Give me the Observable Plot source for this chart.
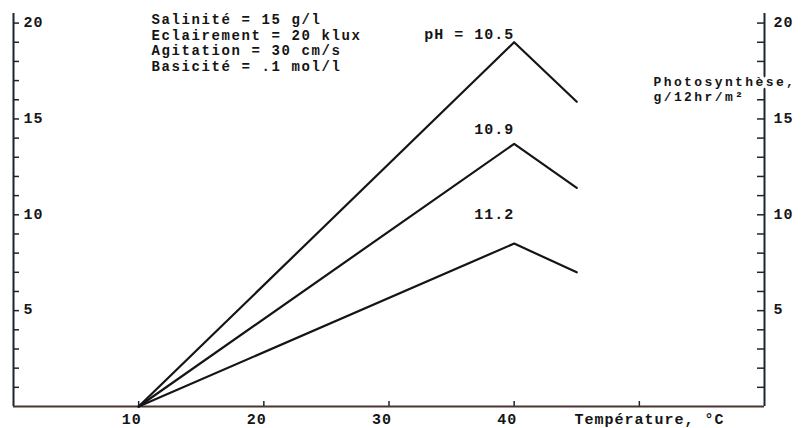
<!DOCTYPE html>
<html>
<head>
<meta charset="utf-8">
<script src="https://cdn.jsdelivr.net/npm/d3@7"></script>
<script src="https://cdn.jsdelivr.net/npm/@observablehq/plot@0.6"></script>
<style>
  html, body { margin: 0; padding: 0; background: #fff; }
  #chart svg { display: block; }
</style>
</head>
<body>
<div id="chart"></div>
<script>
// Net photosynthesis as a function of water temperature, for three pH levels
const temperature = [10, 40, 45];
const ph105 = [0, 19.0, 15.9];
const ph109 = [0, 13.7, 11.4];
const ph112 = [0, 8.5, 7.0];
const seriesNames = ["pH = 10.5", "10.9", "11.2"];

// Experimental conditions shown in the top-left corner
const conditions = [
  "Salinité = 15 g/l",
  "Eclairement = 20 klux",
  "Agitation = 30 cm/s",
  "Basicité = .1 mol/l"
];

// Axes
const xTickValues = [10, 20, 30, 40, 50];
const xTickLabels = [10, 20, 30, 40];
const yTickValues = d3.range(1, 21);
const yTickLabels = [5, 10, 15, 20];
const xTitle = "Température, °C";
const yTitle = ["Photosynthèse,", "g/12hr/m²"];

const seriesValues = [ph105, ph109, ph112];
const rows = seriesValues.flatMap((vals, i) =>
  vals.map((v, j) => ({series: seriesNames[i], t: temperature[j], p: v}))
);
const peaks = seriesValues.map((vals, i) => ({series: seriesNames[i], t: temperature[1], p: vals[1]}));

const W = 802, H = 428;
const mL = 13, mR = 38, mT = 13, mB = 22;
const frameW = W - mL - mR, frameH = H - mT - mB;
const ink = "#151515";
const axisInk = "#1d2530";

// vertical offset of each pH label above its peak
const labelDy = [-3, -10, -25];

const chart = Plot.plot({
  width: W,
  height: H,
  marginLeft: mL,
  marginRight: mR,
  marginTop: mT,
  marginBottom: mB,
  x: {domain: [0, 60], axis: null},
  y: {domain: [0, 20.5], axis: null},
  style: "font-family: 'Liberation Mono', 'DejaVu Sans Mono', monospace; font-weight: bold; font-size: 15px; letter-spacing: 1px; background: #fff;",
  marks: [
    // inward ticks on left, right and bottom axes
    Plot.tickY(yTickValues, {y: d => d, insetRight: frameW - 6, stroke: axisInk, strokeWidth: 1.5}),
    Plot.tickY(yTickValues, {y: d => d, insetLeft: frameW - 7, stroke: axisInk, strokeWidth: 1.5}),
    Plot.tickX(xTickValues, {x: d => d, insetTop: frameH - 5, stroke: axisInk, strokeWidth: 1.5}),

    // axis lines
    Plot.ruleX([0, 60], {stroke: axisInk, strokeWidth: 2}),
    Plot.ruleY([0], {stroke: "#4a3530", strokeWidth: 2}),

    // curves
    Plot.line(rows, {x: "t", y: "p", z: "series", stroke: ink, strokeWidth: 2.2}),

    // pH labels at the peaks
    ...peaks.map((d, i) => Plot.text([d], {
      x: "t", y: "p", text: "series",
      textAnchor: "end", lineAnchor: "bottom", dy: labelDy[i], fill: ink
    })),

    // y tick labels, inside on the left, outside on the right
    Plot.text(yTickLabels, {y: d => d, text: d => String(d), frameAnchor: "left", textAnchor: "start", dx: 10, dy: -1, fill: ink}),
    Plot.text(yTickLabels, {y: d => d, text: d => String(d), frameAnchor: "right", textAnchor: "start", dx: 9, dy: -1, fill: ink}),

    // x tick labels
    Plot.text(xTickLabels, {x: d => d, text: d => String(d), frameAnchor: "bottom", lineAnchor: "bottom", dy: 17, dx: -7, fill: ink}),

    // x title
    Plot.text([xTitle], {text: d => d, frameAnchor: "bottom-right", textAnchor: "end", lineAnchor: "bottom", dx: -40, dy: 17, fill: ink}),

    // y title, with a white halo that interrupts the right axis
    Plot.text([yTitle.join("\n")], {
      text: d => d, frameAnchor: "top-right", textAnchor: "start", lineAnchor: "bottom",
      fontSize: 13, lineHeight: 1.08, dx: -111, dy: 87, fill: ink, stroke: "#fff", strokeWidth: 7
    }),

    // experimental conditions
    Plot.text([conditions.join("\n")], {
      text: d => d, frameAnchor: "top-left", textAnchor: "start", lineAnchor: "bottom",
      fontSize: 14, lineHeight: 1.1, dx: 138, dy: 57, fill: ink
    })
  ]
});

// wider letter spacing for the two multi-line blocks drawn at smaller sizes
chart.querySelectorAll("[font-size='13']").forEach(el => { el.style.letterSpacing = "2.4px"; });
chart.querySelectorAll("[font-size='14']").forEach(el => { el.style.letterSpacing = "1.6px"; });

document.getElementById("chart").append(chart);
</script>
</body>
</html>
